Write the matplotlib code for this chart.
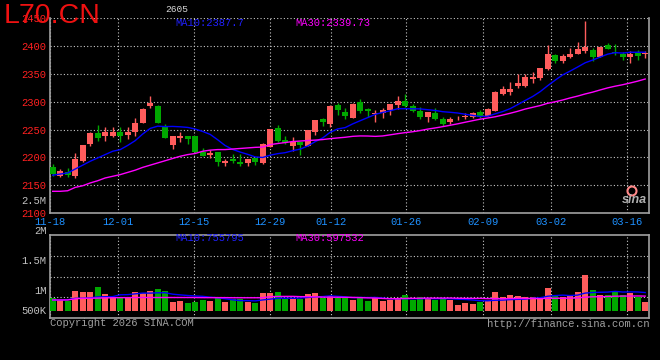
import numpy as np
import pandas as pd
import matplotlib
matplotlib.use("Agg")
import matplotlib.pyplot as plt
from matplotlib.patches import Ellipse

# 日K数据 (11-18 ~ 03-19)
opens = [2183.3, 2167.3, 2174.4, 2167.3, 2194, 2223.8, 2243.5, 2238.7, 2238.7, 2244.6,
         2239.9, 2245.8, 2261.3, 2292.3, 2292.3, 2255.4, 2222, 2235, 2237.5, 2237.5,
         2209, 2204.2, 2209, 2190, 2197, 2192, 2190, 2198, 2190, 2219.7,
         2251.8, 2231, 2220.8, 2226.8, 2220.8, 2245.8, 2269.6, 2259.5, 2293.5, 2281.6,
         2271.4, 2298.8, 2287.5, 2277.4, 2280.4, 2284.5, 2294.6, 2300.6, 2292.9, 2283.9,
         2272, 2279.8, 2267.9, 2263.1, 2270.7, 2272.6, 2272.6, 2282.1, 2275, 2284,
         2314.9, 2318.5, 2328, 2328, 2341.7, 2343.5, 2358.3, 2384.5, 2372.6, 2379.8,
         2386.3, 2392.3, 2392.3, 2379.8, 2401.2, 2389.9, 2385.7, 2379.8, 2387.5, 2385.7]
closes = [2170.2, 2175.6, 2168.5, 2197, 2222, 2243.5, 2234.5, 2244.6, 2244.6, 2238.7,
          2245.8, 2261.3, 2287.5, 2298.2, 2262.5, 2235.7, 2237.5, 2237.5, 2234, 2209,
          2203, 2207.7, 2191, 2194, 2193.5, 2188, 2197, 2191, 2224, 2250.6,
          2229.8, 2225.6, 2226.8, 2222, 2249.4, 2266.7, 2263.7, 2292.3, 2284.5, 2274.4,
          2296.4, 2282.7, 2282.7, 2279.8, 2284.5, 2296.4, 2300.6, 2292.9, 2282.7, 2272.6,
          2282.1, 2269, 2260.7, 2269, 2271.4, 2274.4, 2279.8, 2272.6, 2287.5, 2316.7,
          2322, 2322, 2332.7, 2343.5, 2343.5, 2361.3, 2386.3, 2372.6, 2381.5, 2386.3,
          2395.2, 2397.6, 2381.5, 2397.6, 2395.8, 2387.5, 2379.8, 2386.3, 2382.1, 2386.9]
highs = [2188, 2179, 2180, 2207, 2223, 2246, 2258, 2254, 2255, 2254,
         2254, 2271, 2288, 2311, 2295, 2260, 2238, 2245, 2238, 2239,
         2216, 2214, 2210, 2197, 2206, 2206, 2197, 2200, 2226, 2251,
         2258, 2238, 2236, 2227, 2250, 2267, 2271, 2295, 2297, 2289,
         2298, 2305, 2289, 2286, 2289, 2296.4, 2311, 2314, 2296, 2290,
         2282.1, 2289, 2273, 2273, 2275, 2279, 2282, 2286, 2289, 2318.5,
         2329, 2336, 2350, 2350, 2354, 2361.3, 2402, 2386.3, 2386.3, 2397,
         2408, 2445, 2397, 2397.6, 2405, 2404, 2390, 2391, 2393.5, 2392]
lows = [2166, 2165.5, 2164, 2162.5, 2191, 2221, 2230, 2230, 2236, 2227,
        2233, 2239, 2261, 2289, 2262, 2234, 2215, 2227, 2224, 2208,
        2202, 2198, 2185, 2185, 2190, 2185, 2184, 2186, 2188, 2218,
        2227, 2224, 2212, 2204, 2220, 2240, 2257, 2254, 2276, 2268.5,
        2270, 2280, 2273, 2263, 2271, 2277, 2287, 2290.5, 2281.6, 2269,
        2264, 2268, 2257, 2259.5, 2267, 2268.5, 2271.4, 2271, 2274, 2282.7,
        2312, 2312, 2324, 2327, 2334.5, 2338.7, 2356.6, 2369.6, 2369.6, 2378,
        2385, 2387.5, 2373, 2379.8, 2394.6, 2383.3, 2374.4, 2370, 2374.4, 2378]
# 成交量 (千手)
volumes = [541, 470, 441, 854, 811, 811, 1025, 726, 612, 612,
           612, 811, 754, 854, 939, 854, 398, 427, 356, 398,
           470, 427, 541, 398, 498, 498, 398, 327, 754, 754,
           811, 498, 498, 498, 726, 754, 541, 640, 541, 541,
           470, 583, 427, 583, 427, 470, 541, 683, 470, 583,
           541, 470, 541, 470, 256, 356, 299, 398, 441, 811,
           612, 683, 640, 583, 612, 541, 982, 683, 612, 640,
           811, 1537, 896, 683, 683, 854, 683, 754, 583, 398]

# 均线开头部分依赖图外的历史数据
ma10_head = [2168, 2170, 2172, 2179, 2186, 2193, 2199, 2205, 2211]
ma30_head = [2139, 2139, 2140, 2146, 2149, 2154, 2158, 2163, 2166, 2169,
             2173, 2177, 2182, 2186, 2190, 2194, 2198, 2202, 2205, 2207,
             2211, 2213, 2214, 2214, 2215, 2216, 2217, 2218, 2218.5]
vma10_head = [470, 470, 480, 540, 545, 560, 600, 610, 612]
vma30_head = [470, 470, 470, 520, 540, 545, 550, 560, 565, 570,
              570, 575, 575, 575, 575, 575, 575, 575, 575, 575,
              570, 570, 570, 570, 565, 565, 565, 565, 565]

tick_labels = ['11-18', '12-01', '12-15', '12-29', '01-12', '01-26', '02-09', '03-02', '03-16']
tick_pos = [-0.36, 8.75, 18.88, 29.0, 37.15, 47.17, 57.33, 66.5, 76.64]

ma10_last = '2387.7'
ma30_last = '2339.73'
vma10_last = '755795'
vma30_last = '597532'


def with_head(series, head, n):
    ma = pd.Series(series).rolling(n).mean().to_numpy()
    ma[:len(head)] = head
    return ma


def px(x, y):
    return x / 660, 1 - y / 360


RED = '#ff5c5c'
GREEN = '#00a800'
GRID = '#c8c8c8'
FRAME = '#a0a0a0'
MONO = 'Liberation Mono'

x = np.arange(len(closes))
o = np.array(opens)
c = np.array(closes)
up = c >= o
cols = np.where(up, RED, GREEN)

ma10 = with_head(closes, ma10_head, 10)
ma30 = with_head(closes, ma30_head, 30)
vma10 = with_head(volumes, vma10_head, 10)
vma30 = with_head(volumes, vma30_head, 30)

fig = plt.figure(figsize=(6.6, 3.6), dpi=100, facecolor='black')
ax = fig.add_axes([50 / 660, 1 - 213 / 360, 599.3 / 660, 194.7 / 360], facecolor='black')
axv = fig.add_axes([50 / 660, 1 - 318 / 360, 599.3 / 660, 83 / 360], facecolor='black')

xlim = (-0.36, 79.55)

# K线
ax.vlines(x, lows, highs, colors=cols, linewidth=1.0, zorder=3)
ax.bar(x, np.abs(c - o) + 0.4, bottom=np.minimum(o, c) - 0.2, width=0.8, color=cols, zorder=4)
ax.plot(x, ma10, color='#0000ff', linewidth=1.0, zorder=5)
ax.plot(x, ma30, color='#ff00ff', linewidth=1.0, zorder=5)

ax.set_xlim(*xlim)
ax.set_ylim(2100, 2450)
ax.set_yticks(np.arange(2100, 2451, 50))
ax.set_xticks(tick_pos)
ax.set_xticklabels(tick_labels)
ax.grid(True, color=GRID, linestyle=(0, (1, 2)), linewidth=0.8, zorder=1)
ax.tick_params(length=0, pad=3)
for lab in ax.get_yticklabels():
    lab.set_color('#ff2020')
    lab.set_fontfamily(MONO)
    lab.set_fontsize(7.6)
for lab in ax.get_xticklabels():
    lab.set_color('#1e90ff')
    lab.set_fontfamily(MONO)
    lab.set_fontsize(7.6)
for side in ['left', 'right', 'bottom']:
    ax.spines[side].set_color(FRAME)
    ax.spines[side].set_linewidth(1.2)
ax.spines['top'].set_visible(False)

# 成交量
axv.bar(x, volumes, width=0.8, color=cols, zorder=3)
axv.plot(x, vma10, color='#0000ff', linewidth=1.0, zorder=4)
axv.plot(x, vma30, color='#ff00ff', linewidth=1.0, zorder=4)
axv.set_xlim(*xlim)
vlo, vhi = -300, 3245
axv.set_ylim(vlo, vhi)
axv.set_yticks(np.linspace(vlo, vhi, 5)[1:4])
axv.set_yticklabels([])
axv.set_xticks(tick_pos)
axv.set_xticklabels([])
axv.grid(True, color=GRID, linestyle=(0, (1, 2)), linewidth=0.8, zorder=1)
axv.tick_params(length=0)
for side in axv.spines:
    axv.spines[side].set_color(FRAME)
    axv.spines[side].set_linewidth(1.2)

# 文字
fs = 7.6
fig.text(*px(175, 23), 'MA10:' + ma10_last, color='#2020ff', fontsize=fs, family=MONO, va='center')
fig.text(*px(295, 23), 'MA30:' + ma30_last, color='#ff00ff', fontsize=fs, family=MONO, va='center')
fig.text(*px(175, 238), 'MA10:' + vma10_last, color='#2020ff', fontsize=fs, family=MONO, va='center')
fig.text(*px(295, 238), 'MA30:' + vma30_last, color='#ff00ff', fontsize=fs, family=MONO, va='center')

for lab, yy in [('2.5M', 200.5), ('2M', 231), ('1.5M', 261), ('1M', 291), ('500K', 311)]:
    fig.text(*px(46.5, yy), lab, color='#c0c0c0', fontsize=fs, family=MONO, ha='right', va='center')

fig.text(*px(177, 10), '2605', color='#d8d8d8', fontsize=6.8, family=MONO, ha='center', va='center')
fig.text(*px(4, 16), 'L70.CN', color='#ee1111', fontsize=20.5, family='Liberation Sans',
         ha='left', va='center', zorder=10)

fig.text(*px(50, 323), 'Copyright 2026 SINA.COM', color='#a0a0a0', fontsize=fs, family=MONO, va='center')
fig.text(*px(649, 324), 'http://finance.sina.com.cn', color='#a0a0a0', fontsize=fs, family=MONO,
         ha='right', va='center')

# sina 标志
fig.text(*px(634, 200), 'sina', color='#b0b0b0', fontsize=9, weight='bold', style='italic',
         family='Liberation Sans', ha='center', va='center')
fig.add_artist(Ellipse(px(632, 191), 9 / 660, 9 / 360, transform=fig.transFigure,
                       fill=False, edgecolor='#ff8888', linewidth=1.5))

fig.savefig('out.png', dpi=100, facecolor='black')
